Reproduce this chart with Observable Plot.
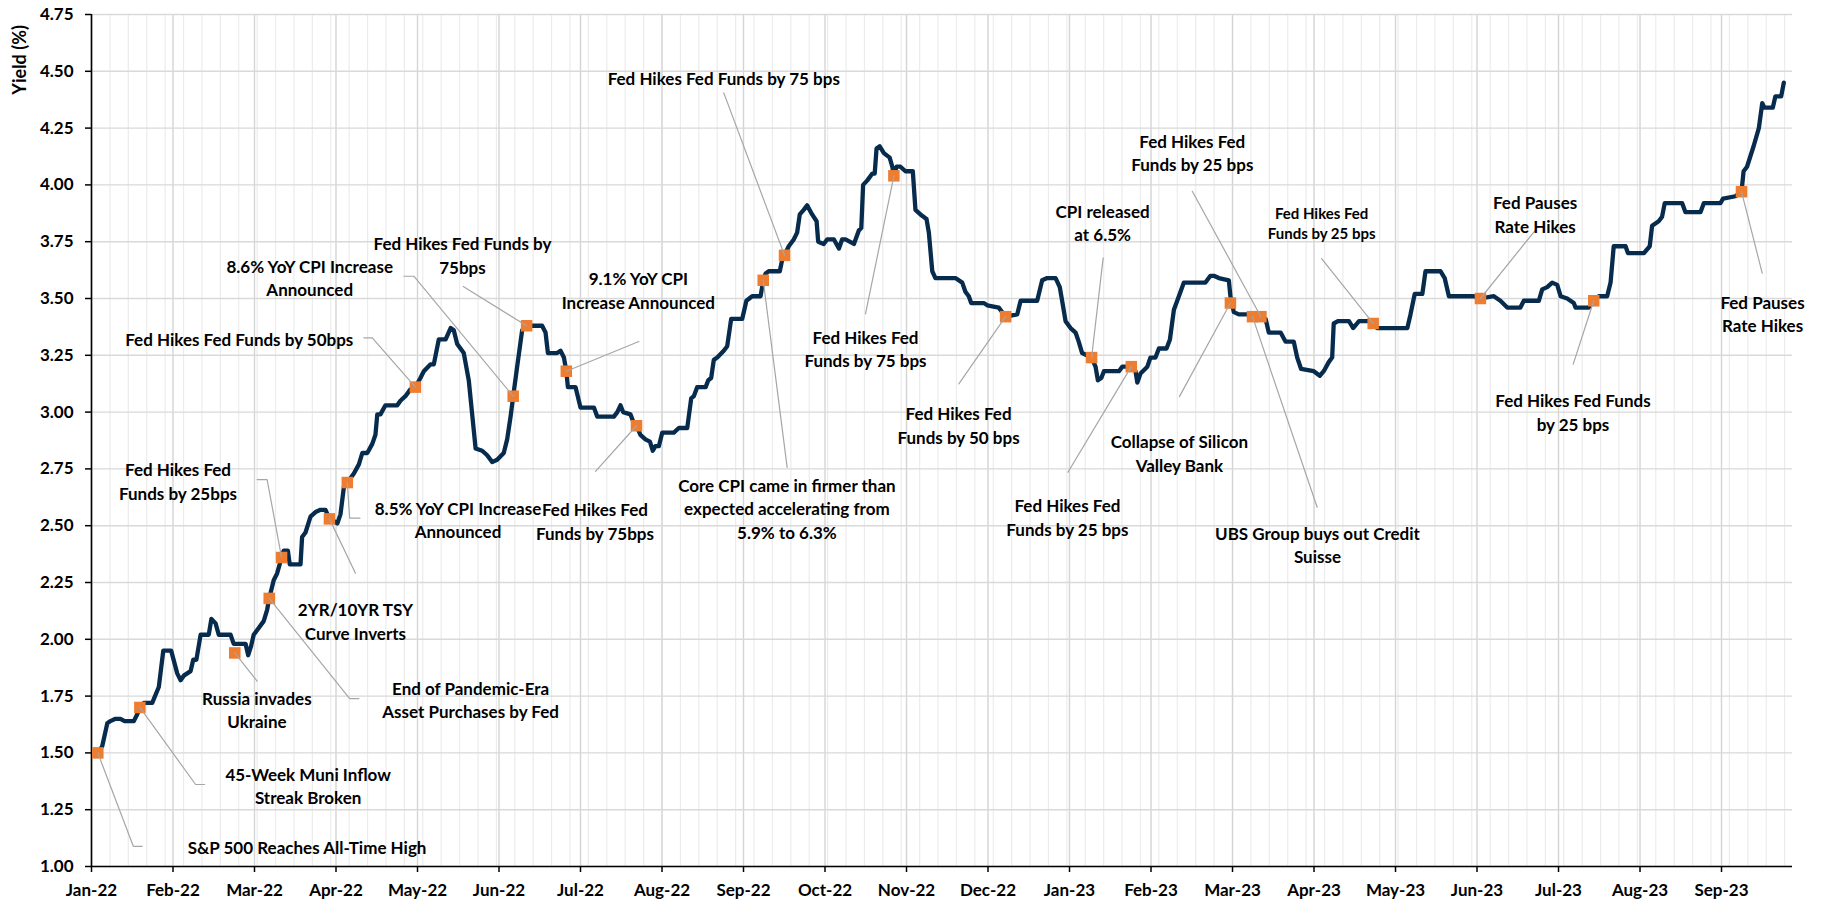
<!DOCTYPE html>
<html><head><meta charset="utf-8">
<script src="https://cdn.jsdelivr.net/npm/d3@7"></script>
<script src="https://cdn.jsdelivr.net/npm/@observablehq/plot@0.6"></script>
<style>
html,body{margin:0;padding:0;background:#fff;}
#chart svg{display:block;}
</style></head><body><div id="chart"></div>
<script>
// ---- data: days since 2022-01-01 and yield (%) ----
const lineDay = [2.4,4.1,6.0,7.2,9.1,11.0,12.6,16.1,17.4,18.4,19.9,23.1,25.6,27.3,30.3,32.6,33.9,35.1,37.7,38.7,39.9,41.5,44.6,45.6,47.2,48.4,52.9,54.1,56.0,58.6,59.6,60.7,61.7,63.6,65.5,66.8,67.6,69.3,70.6,72.3,73.1,74.7,75.4,79.5,80.1,81.4,83.3,85.2,87.1,89.0,90.5,92.2,93.5,94.7,96.0,97.3,99.8,101.7,103.0,104.9,106.8,108.0,108.7,109.9,111.8,116.3,117.5,119.4,121.3,123.2,125.1,126.4,128.9,130.2,132.1,134.7,136.6,137.8,139.1,141.6,143.5,144.8,146.1,148.6,150.5,152.4,154.3,156.8,158.1,159.4,160.4,161.9,163.8,165.5,167.6,171.4,172.7,173.6,177.1,178.4,179.7,180.6,181.2,184.1,186.0,191.1,192.4,198.7,200.0,201.2,202.2,205.0,206.0,207.3,208.8,210.7,212.4,213.5,214.5,215.8,217.1,221.5,223.4,226.6,228.1,229.1,230.4,233.6,234.6,235.7,236.7,238.0,240.5,241.8,243.3,247.5,249.1,251.3,254.5,255.5,256.4,257.6,261.8,262.7,263.6,265.2,267.1,268.4,269.4,270.9,272.2,274.1,275.8,276.4,278.5,279.8,282.4,284.3,285.5,286.8,290.0,291.9,292.8,293.5,295.1,297.0,297.9,298.6,299.8,301.4,303.6,304.6,305.2,306.2,307.7,309.6,312.4,313.4,315.3,317.6,318.5,319.8,321.0,328.6,331.2,332.4,333.7,334.6,339.4,340.7,345.1,347.7,352.1,353.4,359.7,361.6,363.5,366.7,368.3,369.2,370.5,372.4,374.3,375.5,376.8,380.4,381.9,382.8,384.1,385.1,390.8,392.1,395.5,397.1,397.8,399.0,401.6,402.8,404.7,406.0,408.9,410.2,411.7,413.6,415.5,423.7,425.6,426.9,428.8,432.6,433.2,434.5,436.4,440.9,444.4,446.6,447.8,452.3,454.2,457.3,458.6,460.1,464.9,467.2,468.7,470.6,471.9,472.5,474.1,478.3,479.9,482.1,485.9,487.5,489.0,500.5,501.7,503.3,506.2,507.4,513.1,514.7,516.3,525.8,528.3,533.4,535.9,538.5,543.5,544.8,550.5,551.8,553.7,555.6,557.5,558.8,561.3,563.8,564.5,569.5,571.4,573.3,576.5,577.8,579.0,583.5,584.4,590.5,592.7,593.6,596.1,597.4,598.4,605.0,606.3,612.0,613.3,619.6,620.6,625.3,627.6,628.4,629.7,632.2,634.2,635.5,636.3,639.5,640.5,642.7,643.7];
const lineYield = [1.50,1.53,1.63,1.64,1.65,1.65,1.64,1.64,1.67,1.70,1.72,1.72,1.79,1.95,1.95,1.85,1.82,1.84,1.86,1.91,1.91,2.02,2.02,2.09,2.07,2.02,2.02,1.98,1.98,1.98,1.93,1.97,2.02,2.05,2.08,2.13,2.18,2.26,2.29,2.36,2.39,2.39,2.33,2.33,2.45,2.47,2.54,2.56,2.57,2.57,2.53,2.52,2.51,2.55,2.67,2.69,2.73,2.77,2.82,2.82,2.86,2.90,2.99,2.99,3.03,3.03,3.05,3.07,3.10,3.11,3.15,3.18,3.21,3.21,3.32,3.32,3.37,3.36,3.30,3.26,3.14,2.99,2.84,2.83,2.81,2.78,2.79,2.82,2.88,2.98,3.07,3.20,3.36,3.38,3.38,3.38,3.35,3.26,3.26,3.27,3.24,3.18,3.11,3.11,3.02,3.02,2.98,2.98,3.00,3.03,3.00,2.99,2.96,2.94,2.90,2.88,2.87,2.83,2.85,2.85,2.91,2.91,2.93,2.93,3.06,3.07,3.11,3.11,3.14,3.15,3.23,3.24,3.27,3.29,3.41,3.41,3.49,3.51,3.51,3.58,3.61,3.62,3.62,3.67,3.69,3.73,3.76,3.79,3.87,3.89,3.91,3.87,3.84,3.75,3.74,3.76,3.76,3.72,3.76,3.76,3.74,3.80,3.81,4.00,4.02,4.05,4.05,4.16,4.17,4.14,4.12,4.08,4.04,4.08,4.08,4.06,4.06,3.89,3.87,3.85,3.79,3.62,3.59,3.59,3.57,3.53,3.51,3.48,3.48,3.47,3.46,3.42,3.43,3.49,3.49,3.58,3.59,3.59,3.55,3.49,3.40,3.37,3.35,3.31,3.26,3.24,3.20,3.14,3.15,3.18,3.18,3.20,3.20,3.18,3.13,3.17,3.20,3.24,3.24,3.28,3.28,3.32,3.45,3.51,3.57,3.57,3.60,3.60,3.59,3.58,3.51,3.44,3.43,3.43,3.42,3.41,3.35,3.35,3.31,3.31,3.24,3.19,3.18,3.16,3.18,3.22,3.24,3.39,3.40,3.40,3.37,3.40,3.40,3.39,3.37,3.37,3.43,3.52,3.52,3.62,3.62,3.59,3.51,3.51,3.50,3.51,3.49,3.46,3.46,3.49,3.49,3.54,3.55,3.57,3.56,3.51,3.50,3.48,3.46,3.46,3.49,3.51,3.51,3.57,3.73,3.73,3.70,3.70,3.73,3.82,3.84,3.86,3.92,3.92,3.88,3.88,3.92,3.92,3.94,3.95,3.97,4.06,4.08,4.17,4.25,4.36,4.34,4.34,4.39,4.39,4.45];

// ---- events ----
const eventDay = [2.4,18.4,54.5,67.6,72.3,90.5,97.3,123.2,160.4,165.5,180.6,207.3,255.5,263.6,305.2,347.7,380.4,395.5,433.2,441.6,444.8,487.5,528.3,571.4,627.6];
const eventYield = [1.50,1.70,1.94,2.18,2.36,2.53,2.69,3.11,3.07,3.38,3.18,2.94,3.58,3.69,4.04,3.42,3.24,3.20,3.48,3.42,3.42,3.39,3.50,3.49,3.97];
const eventLabel = [
  "S&P 500 Reaches All-Time High",
  "45-Week Muni Inflow\nStreak Broken",
  "Russia invades\nUkraine",
  "End of Pandemic-Era\nAsset Purchases by Fed",
  "Fed Hikes Fed\nFunds by 25bps",
  "2YR/10YR TSY\nCurve Inverts",
  "8.5% YoY CPI Increase\nAnnounced",
  "Fed Hikes Fed Funds by 50bps",
  "8.6% YoY CPI Increase\nAnnounced",
  "Fed Hikes Fed Funds by\n75bps",
  "9.1% YoY CPI\nIncrease Announced",
  "Fed Hikes Fed\nFunds by 75bps",
  "Core CPI came in firmer than\nexpected accelerating from\n5.9% to 6.3%",
  "Fed Hikes Fed Funds by 75 bps",
  "Fed Hikes Fed\nFunds by 75 bps",
  "Fed Hikes Fed\nFunds by 50 bps",
  "CPI released\nat 6.5%",
  "Fed Hikes Fed\nFunds by 25 bps",
  "Collapse of Silicon\nValley Bank",
  "UBS Group buys out Credit\nSuisse",
  "Fed Hikes Fed\nFunds by 25 bps",
  "Fed Hikes Fed\nFunds by 25 bps",
  "Fed Pauses\nRate Hikes",
  "Fed Hikes Fed Funds\nby 25 bps",
  "Fed Pauses\nRate Hikes"
];
// annotation placement in data units (label centre, leader end, optional leader tail)
const labelDay   = [82.0,82.4,62.9,144.2,32.9,100.4,139.4,56.2,83.0,141.1,208.0,191.5,264.5,240.5,294.4,329.8,384.6,371.2,413.8,466.3,418.7,467.9,549.1,563.5,635.6];
const labelYield = [1.088,1.357,1.692,1.736,2.699,2.083,2.528,3.323,3.595,3.693,3.539,2.523,2.578,4.471,3.281,2.945,3.838,2.540,2.822,2.418,4.144,3.836,3.874,3.003,3.435];
const leaderDay   = [15.9,39.6,63.0,98.2,66.8,100.4,98.2,106.8,122.6,141.4,208.2,191.7,264.6,240.5,294.4,329.9,384.8,371.4,413.8,466.2,418.7,467.9,549.0,563.6,635.5];
const leaderYield = [1.089,1.361,1.816,1.739,2.703,2.291,2.533,3.327,3.598,3.553,3.311,2.739,2.757,4.405,3.432,3.124,3.679,2.735,3.068,2.581,3.972,3.675,3.798,3.211,3.611];
const leaderTailDay = [19.3,43.0,null,101.7,63.0,null,102.1,103.6,118.8,null,null,null,null,null,null,null,null,null,null,null,null,null,null,null,null];
const labelSmall = [false,false,false,false,false,false,false,false,false,false,false,false,false,false,false,false,false,false,false,false,false,true,false,false,false];

const yTicks = [1.00,1.25,1.50,1.75,2.00,2.25,2.50,2.75,3.00,3.25,3.50,3.75,4.00,4.25,4.50,4.75];
const yTitle = "Yield (%)";

// ---- build ----
const day0 = Date.UTC(2022,0,1), DAY = 864e5;
const toDate = d => new Date(day0 + d*DAY);
const series = lineDay.map((d,i) => ({date: toDate(d), yield: lineYield[i]}));
const events = eventDay.map((d,i) => ({date: toDate(d), yield: eventYield[i]}));
const monthTicks = d3.range(0, 21).map(k => toDate(31*k));
const weekTicks = d3.range(0, 93).map(k => toDate(7*k));
const leaders = [];
eventDay.forEach((d,i) => {
  leaders.push({id:i, date: toDate(d), yield: eventYield[i]});
  leaders.push({id:i, date: toDate(leaderDay[i]), yield: leaderYield[i]});
  if (leaderTailDay[i] != null) leaders.push({id:i, date: toDate(leaderTailDay[i]), yield: leaderYield[i]});
});
const labels = eventLabel.map((t,i) => ({text:t, date: toDate(labelDay[i]), yield: labelYield[i], small: labelSmall[i]}));

const FONT = "Lato, 'Open Sans', sans-serif";
const chart = Plot.plot({
  width: 1825, height: 903,
  marginLeft: 91, marginRight: 33, marginTop: 14, marginBottom: 37,
  style: {fontFamily: FONT, fontWeight: "bold", color: "#000", background: "#fff", overflow: "visible"},
  x: {type: "utc", domain: [toDate(0), toDate(647)]},
  y: {domain: [1, 4.75]},
  marks: [
    Plot.ruleX(weekTicks, {stroke: "#ececec", strokeWidth: 1.2}),
    Plot.ruleX(monthTicks, {stroke: "#d4d4d4", strokeWidth: 1.4}),
    Plot.ruleY(yTicks, {stroke: "#d9d9d9", strokeWidth: 1.4}),
    Plot.axisX({ticks: monthTicks, tickFormat: d3.utcFormat("%b-%y"), tickSize: 6, tickPadding: 11, fontSize: 17, fontWeight: "bold", stroke: "#000", strokeWidth: 1.5, label: null}),
    Plot.axisY({ticks: yTicks, tickFormat: d3.format(".2f"), tickSize: 6, tickPadding: 12, fontSize: 17, fontWeight: "bold", stroke: "#000", strokeWidth: 1.5, label: null}),
    Plot.ruleX([toDate(0)], {stroke: "#000", strokeWidth: 1.6}),
    Plot.ruleY([1], {stroke: "#000", strokeWidth: 1.6}),
    Plot.text([yTitle], {x: () => toDate(-27), y: () => 4.55, text: d => d, rotate: -90, fontSize: 18, fontWeight: "bold", fill: "#000", textAnchor: "middle", lineAnchor: "middle"}),
    Plot.line(series, {x: "date", y: "yield", stroke: "#072b4c", strokeWidth: 4.3, strokeLinejoin: "round", strokeLinecap: "round"}),
    Plot.dot(events, {x: "date", y: "yield", symbol: "square", r: 6.5, fill: "#ed7d31", stroke: "none"}),
    Plot.line(leaders, {x: "date", y: "yield", z: "id", stroke: "#a6a6a6", strokeWidth: 1.2}),
    Plot.text(labels.filter(d => !d.small), {x: "date", y: "yield", text: "text", fontSize: 17, fontWeight: "bold", lineHeight: 1.37, fill: "#000", textAnchor: "middle", lineAnchor: "middle"}),
    Plot.text(labels.filter(d => d.small), {x: "date", y: "yield", text: "text", fontSize: 15, fontWeight: "bold", lineHeight: 1.33, fill: "#000", textAnchor: "middle", lineAnchor: "middle"})
  ]
});
document.getElementById("chart").appendChild(chart);
</script>
</body></html>
